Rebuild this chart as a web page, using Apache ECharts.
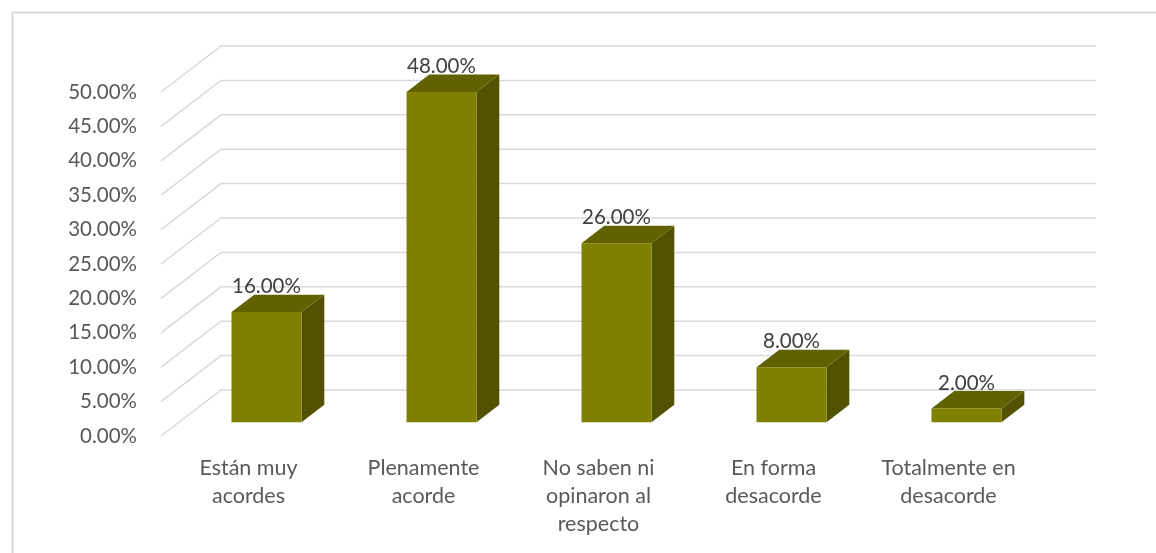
<!DOCTYPE html>
<html>
<head>
<meta charset="utf-8">
<script src="https://cdn.jsdelivr.net/npm/echarts@6/dist/echarts.min.js"></script>
<style>
  html, body { margin: 0; padding: 0; background: #fff; }
  #main { width: 1156px; height: 553px; }
</style>
</head>
<body>
<div id="main"></div>
<script>
var categories = ["Están muy\nacordes", "Plenamente\nacorde", "No saben ni\nopinaron al\nrespecto", "En forma\ndesacorde", "Totalmente en\ndesacorde"];
var values = [16, 48, 26, 8, 2];
var yTicks = [0, 5, 10, 15, 20, 25, 30, 35, 40, 45, 50];

// perspective depth of the 3D box (pixels)
var DX = 60, DY = -46;
var FRONT = 0.3, DEPTH = 0.38, BAR_W = 0.4;
var FONT = "Lato";

var myChart = echarts.init(document.getElementById("main"));

myChart.setOption({
  animation: false,
  grid: { left: 161, right: 120, top: 92, bottom: 117 },
  graphic: [{
    type: "rect",
    left: 10, top: 10,
    shape: { width: 1200, height: 600 },
    style: { fill: "none", stroke: "#d9d9d9", lineWidth: 2 },
    silent: true
  }],
  xAxis: {
    type: "category",
    data: categories,
    axisLine: { show: false },
    axisTick: { show: false },
    splitLine: { show: false },
    axisLabel: {
      color: "#595959", fontFamily: FONT, fontSize: 21.5,
      lineHeight: 28, margin: 18, interval: 0
    }
  },
  yAxis: {
    type: "value",
    min: 0, max: 50, interval: 5,
    axisLine: { show: false },
    axisTick: { show: false },
    splitLine: { show: false },
    axisLabel: {
      color: "#595959", fontFamily: FONT, fontSize: 20.5, margin: 24,
      formatter: function (v) { return v.toFixed(2) + "%"; }
    }
  },
  series: [
    {
      // floor/back wall grid lines
      type: "custom",
      z: 1,
      silent: true,
      data: yTicks.map(function (v) { return [0, v]; }),
      renderItem: function (params, api) {
        var band = api.size([1, 0])[0];
        var p0 = api.coord([0, api.value(1)]);
        var p1 = api.coord([categories.length - 1, api.value(1)]);
        var x0 = p0[0] - band / 2, x1 = p1[0] + band / 2, y = p0[1];
        return {
          type: "polyline",
          shape: { points: [[x0, y], [x0 + DX, y + DY], [x1 + DX, y + DY]] },
          style: { stroke: "#d9d9d9", lineWidth: 1.5, fill: null }
        };
      }
    },
    {
      type: "custom",
      z: 2,
      data: values.map(function (v, i) { return [i, v]; }),
      renderItem: function (params, api) {
        var i = api.value(0), v = api.value(1);
        var band = api.size([1, 0])[0];
        var w = band * BAR_W;
        var base = api.coord([i, 0]);
        var top = api.coord([i, v]);
        var fx = base[0] + FRONT * DX - w / 2;
        var by = base[1] + FRONT * DY;
        var ty = top[1] + FRONT * DY;
        var ddx = DEPTH * DX, ddy = DEPTH * DY;
        return {
          type: "group",
          children: [
            {
              type: "polygon",
              shape: { points: [[fx + w, ty], [fx + w + ddx, ty + ddy], [fx + w + ddx, by + ddy], [fx + w, by]] },
              style: { fill: "#525200" }
            },
            {
              type: "polygon",
              shape: { points: [[fx, ty], [fx + w, ty], [fx + w + ddx, ty + ddy], [fx + ddx, ty + ddy]] },
              style: { fill: "#616100" }
            },
            {
              type: "rect",
              shape: { x: fx, y: ty, width: w, height: by - ty },
              style: { fill: "#808000" }
            },
            {
              type: "text",
              style: {
                x: fx + w / 2, y: ty + ddy - 8,
                text: v.toFixed(2) + "%",
                fill: "#404040", font: "20.5px " + FONT,
                align: "center", verticalAlign: "middle"
              }
            }
          ]
        };
      }
    }
  ]
});
</script>
</body>
</html>
